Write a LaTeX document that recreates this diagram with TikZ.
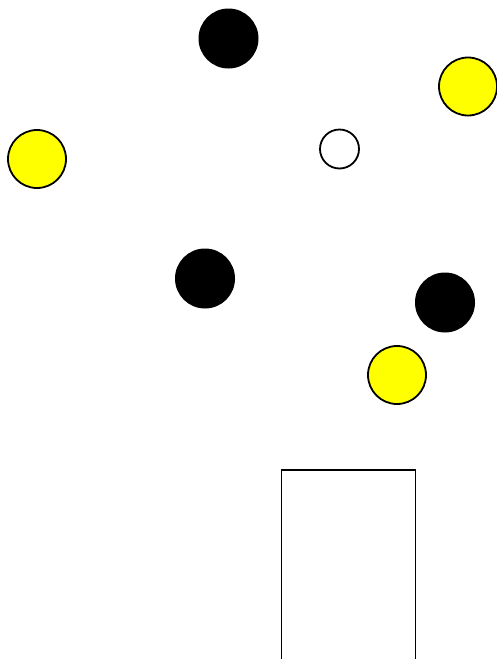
\documentclass[tikz,border=0pt]{standalone}
\usepackage{tikz}

\definecolor{ballyellow}{RGB}{255,255,0}
\tikzset{
  ball/.style={circle, inner sep=0pt, line width=1.8pt},
  blackball/.style={ball, fill=black, minimum size=60pt},
  yellowball/.style={ball, draw=black, fill=ballyellow, minimum size=58pt},
  whiteball/.style={ball, draw=black, fill=white, minimum size=39pt}
}

\begin{document}
\begin{tikzpicture}[x=1pt, y=-1pt]
    \useasboundingbox (0,0) rectangle (496,659);

    % Balls
    \node[blackball] (topblack) at (228.5,38.5) {};
    \node[yellowball] (rightyellow) at (468,86.5) {};
    \node[yellowball] (leftyellow) at (37,159) {};
    \node[whiteball] (whiteball) at (339.5,149) {};
    \node[blackball] (midblack) at (205,278.5) {};
    \node[blackball] (rightblack) at (445,302.5) {};
    \node[yellowball] (lowyellow) at (397,375) {};

    % Open box at the bottom
    \draw[line width=1.8pt] (281.5,662) -- (281.5,470) -- (415.5,470) -- (415.5,662);
\end{tikzpicture}
\end{document}
